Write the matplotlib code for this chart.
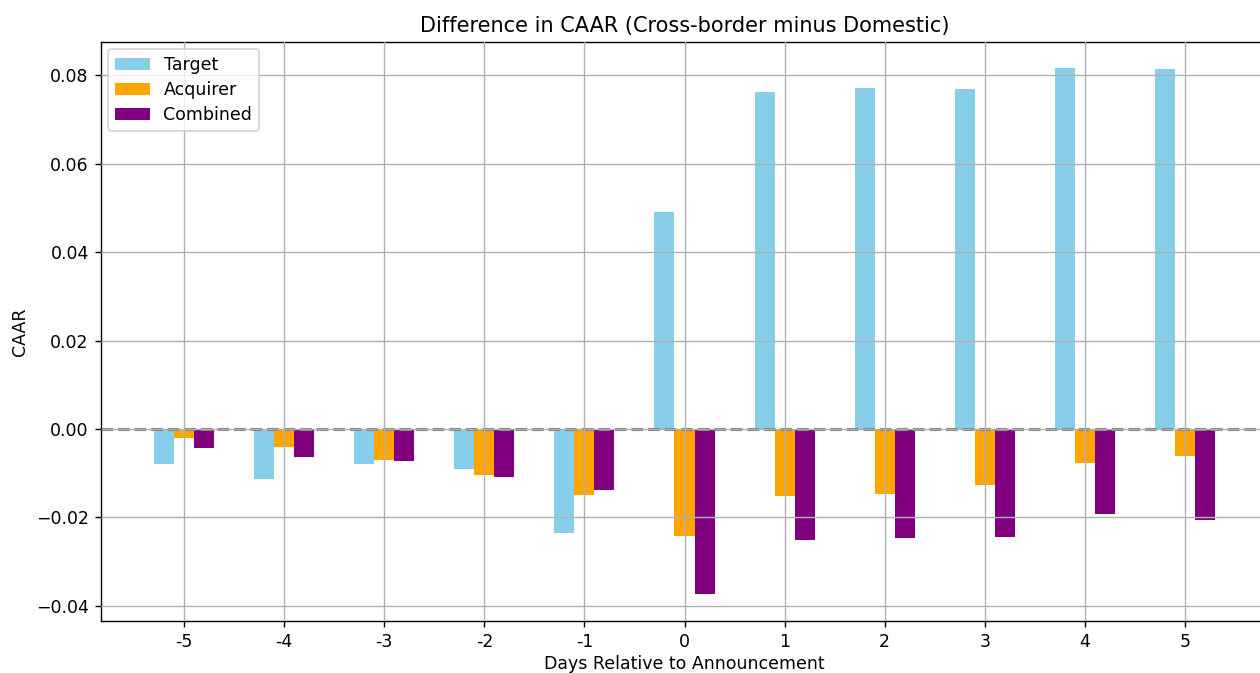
import numpy as np
import matplotlib
matplotlib.use('Agg')
import matplotlib.pyplot as plt

days = [-5, -4, -3, -2, -1, 0, 1, 2, 3, 4, 5]
target = [-0.0080, -0.0112, -0.0078, -0.0090, -0.0234, 0.0490,
          0.0762, 0.0770, 0.0768, 0.0817, 0.0814]
acquirer = [-0.0020, -0.0040, -0.0069, -0.0103, -0.0149, -0.0242,
            -0.0151, -0.0148, -0.0126, -0.0076, -0.0060]
combined = [-0.0042, -0.0063, -0.0072, -0.0109, -0.0137, -0.0374,
            -0.0250, -0.0246, -0.0245, -0.0191, -0.0206]

x = np.arange(len(days))
w = 0.2

# saved at dpi 125, so default font sizes come out a bit larger
fig = plt.figure(figsize=(1260 / 125, 673 / 125), dpi=125)
ax = fig.add_axes([101 / 1260, 52 / 673, 1167 / 1260, 579 / 673])

ax.bar(x - w, target, w, color='skyblue', label='Target')
ax.bar(x, acquirer, w, color='orange', label='Acquirer')
ax.bar(x + w, combined, w, color='purple', label='Combined')
ax.axhline(0, color='gray', linestyle='--', linewidth=1.8)

ax.set_xticks(x)
ax.set_xticklabels([str(d) for d in days])
ax.set_xlim(-0.83, 10.83)
ax.set_ylim(-0.0434, 0.0875)
ax.set_xlabel('Days Relative to Announcement', labelpad=2)
ax.set_ylabel('CAAR')
ax.set_title('Difference in CAAR (Cross-border minus Domestic)')
ax.legend(loc='upper left', labelspacing=0.4, borderaxespad=0.4)
ax.grid(True, color='#b0b0b0')
ax.set_axisbelow(False)

fig.savefig('out.png', dpi=125)
